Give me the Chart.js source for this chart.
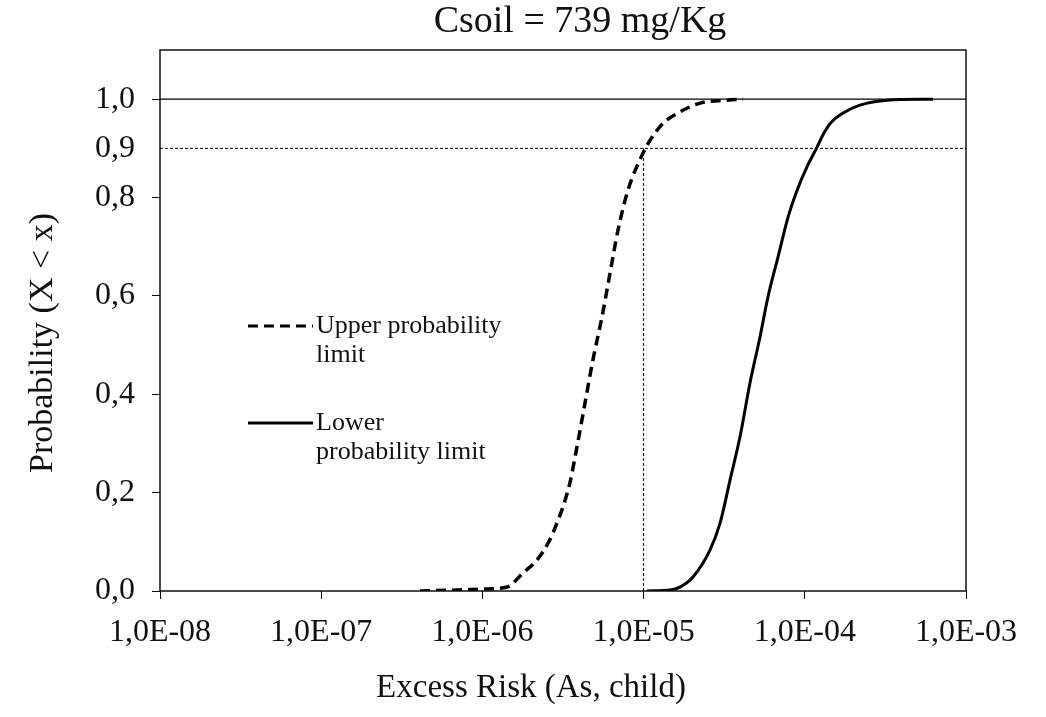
<!DOCTYPE html>
<html>
<head>
<meta charset="utf-8">
<script src="https://cdn.jsdelivr.net/npm/chart.js@4/dist/chart.umd.min.js"></script>
<style>
    html, body { margin: 0; padding: 0; background: #fff; }
    #wrap { width: 1046px; height: 717px; }
</style>
</head>
<body>
<div id="wrap"><canvas id="cdfChart"></canvas></div>
<script>
// Axis ticks
const xTickValues = [1e-8, 1e-7, 1e-6, 1e-5, 1e-4, 1e-3];
const yTickValues = [0, 0.2, 0.4, 0.6, 0.8, 0.9, 1.0];

// Upper probability limit (dashed curve)
const upperRisk = [4.1e-7, 7.0e-7, 1.02e-6, 1.42e-6, 1.79e-6, 2.18e-6, 2.62e-6, 2.90e-6, 3.16e-6, 3.49e-6, 3.86e-6, 4.33e-6, 4.85e-6, 5.52e-6, 6.19e-6, 6.94e-6, 8.0e-6, 9.91e-6, 1.10e-5, 1.32e-5, 1.68e-5, 2.24e-5, 3.29e-5, 4.14e-5];
const upperProb = [0.0, 0.002, 0.004, 0.008, 0.037, 0.063, 0.104, 0.138, 0.171, 0.22, 0.293, 0.382, 0.47, 0.557, 0.646, 0.734, 0.815, 0.89, 0.917, 0.951, 0.974, 0.992, 0.998, 1.0];

// Lower probability limit (solid curve)
const lowerRisk = [1.05e-5, 1.46e-5, 1.68e-5, 2.02e-5, 2.58e-5, 2.98e-5, 3.44e-5, 3.96e-5, 4.57e-5, 5.27e-5, 5.91e-5, 6.82e-5, 7.87e-5, 8.96e-5, 1.03e-4, 1.19e-4, 1.30e-4, 1.45e-4, 1.73e-4, 2.20e-4, 3.24e-4, 6.24e-4];
const lowerProb = [0.0, 0.002, 0.008, 0.028, 0.083, 0.138, 0.226, 0.313, 0.423, 0.516, 0.598, 0.679, 0.76, 0.815, 0.862, 0.902, 0.928, 0.952, 0.972, 0.988, 0.998, 1.0];

// Reference lines
const refRisk = 1e-5;
const refProb = 0.9;
const fullProb = 1.0;

const titleText = 'Csoil = 739 mg/Kg';
const xTitle = 'Excess Risk (As, child)';
const yTitle = 'Probability (X < x)';

const serif = '"Liberation Serif", "Times New Roman", serif';

function toPoints(xs, ys) {
    return xs.map((x, i) => ({ x: x, y: ys[i] }));
}

function sciLabel(v) {
    const [m, e] = v.toExponential(1).split('e');
    const n = parseInt(e, 10);
    const exp = (n < 0 ? '-' : '+') + String(Math.abs(n)).padStart(2, '0');
    return m.replace('.', ',') + 'E' + exp;
}

// Frame, titles and the legend inside the plot
const decorPlugin = {
    id: 'decor',
    afterDraw(chart) {
        const { ctx, chartArea: a } = chart;
        ctx.save();
        ctx.strokeStyle = '#111';
        ctx.lineWidth = 1.5;
        ctx.strokeRect(a.left, a.top, a.right - a.left, a.bottom - a.top);

        ctx.fillStyle = '#111';
        ctx.textAlign = 'center';
        ctx.textBaseline = 'alphabetic';
        ctx.font = '38px ' + serif;
        ctx.fillText(titleText, 580, 32);
        ctx.font = '33px ' + serif;
        ctx.fillText(xTitle, 531, 697);

        ctx.save();
        ctx.translate(52, 343);
        ctx.rotate(-Math.PI / 2);
        ctx.font = '34px ' + serif;
        ctx.fillText(yTitle, 0, 0);
        ctx.restore();

        const items = [
            { dash: [10, 6], y: 326, lines: ['Upper probability', 'limit'] },
            { dash: [], y: 423, lines: ['Lower', 'probability limit'] }
        ];
        ctx.font = '26px ' + serif;
        ctx.textAlign = 'left';
        ctx.textBaseline = 'middle';
        items.forEach(it => {
            ctx.beginPath();
            ctx.setLineDash(it.dash);
            ctx.lineWidth = 3;
            ctx.strokeStyle = '#000';
            ctx.moveTo(a.left + 88, it.y);
            ctx.lineTo(a.left + 153, it.y);
            ctx.stroke();
            it.lines.forEach((t, i) => ctx.fillText(t, a.left + 156, it.y + i * 29));
        });
        ctx.restore();
    }
};

new Chart(document.getElementById('cdfChart'), {
    type: 'line',
    data: {
        datasets: [
            { label: 'Upper probability limit', data: toPoints(upperRisk, upperProb), borderColor: '#000', borderWidth: 3.5, borderDash: [10, 6], pointRadius: 0, cubicInterpolationMode: 'monotone', fill: false },
            { label: 'Lower probability limit', data: toPoints(lowerRisk, lowerProb), borderColor: '#000', borderWidth: 3, pointRadius: 0, cubicInterpolationMode: 'monotone', fill: false },
            { label: 'p = 1', data: toPoints([xTickValues[0], xTickValues[xTickValues.length - 1]], [fullProb, fullProb]), borderColor: '#000', borderWidth: 1.2, pointRadius: 0 },
            { label: 'p = 0.9', data: toPoints([xTickValues[0], xTickValues[xTickValues.length - 1]], [refProb, refProb]), borderColor: '#000', borderWidth: 1, borderDash: [3, 2], pointRadius: 0 },
            { label: 'risk = 1E-05', data: toPoints([refRisk, refRisk], [0, refProb]), borderColor: '#000', borderWidth: 1, borderDash: [3, 2], pointRadius: 0 }
        ]
    },
    options: {
        responsive: true,
        maintainAspectRatio: false,
        animation: false,
        layout: { padding: { top: 50, right: 80, left: 0, bottom: 0 } },
        plugins: {
            legend: { display: false },
            tooltip: { enabled: false }
        },
        scales: {
            x: {
                type: 'logarithmic',
                min: 1e-8,
                max: 1e-3,
                border: { display: false },
                grid: { drawOnChartArea: false, drawTicks: true, tickLength: 8, color: '#000', tickColor: '#000' },
                afterBuildTicks: axis => { axis.ticks = xTickValues.map(v => ({ value: v })); },
                afterFit: axis => { axis.height = 126; },
                ticks: {
                    color: '#111',
                    padding: 14,
                    maxRotation: 0,
                    autoSkip: false,
                    font: { family: serif, size: 32 },
                    callback: v => sciLabel(v)
                }
            },
            y: {
                min: 0,
                max: 1.1,
                border: { display: false },
                grid: {
                    drawOnChartArea: false,
                    drawTicks: true,
                    tickLength: 8,
                    tickColor: ctx => (ctx.tick && Math.abs(ctx.tick.value - refProb) < 1e-9) ? 'rgba(0,0,0,0)' : '#000'
                },
                afterBuildTicks: axis => { axis.ticks = yTickValues.map(v => ({ value: v })); },
                afterFit: axis => { axis.width = 160; },
                ticks: {
                    color: '#111',
                    padding: 17,
                    autoSkip: false,
                    font: { family: serif, size: 32 },
                    callback: v => v.toFixed(1).replace('.', ',')
                }
            }
        }
    },
    plugins: [decorPlugin]
});
</script>
</body>
</html>
